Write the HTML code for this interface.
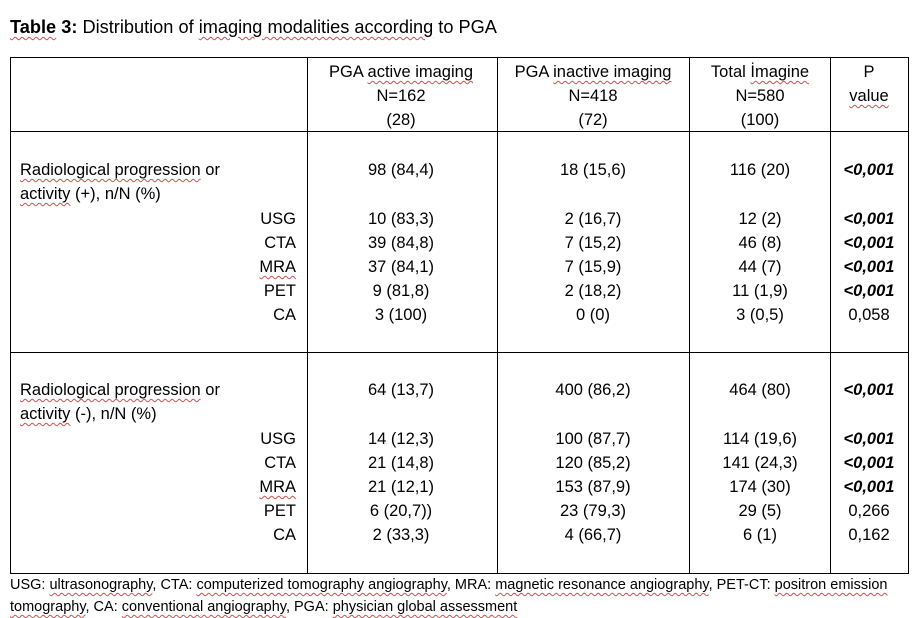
<!DOCTYPE html>
<html><head><meta charset="utf-8">
<style>
body{margin:0;width:920px;height:617px;background:#fff;position:relative;overflow:hidden;font-family:"Liberation Sans",Arial,sans-serif;color:#000}
.t{position:absolute;white-space:nowrap;font-size:16.5px;line-height:24px}
.c{text-align:center;transform:translateX(-50%)}
.r{text-align:right;transform:translateX(-100%)}
.h{position:absolute;height:1px;background:#000}
.v{position:absolute;width:1px;background:#000}
.w{text-decoration:underline wavy #d05050;text-decoration-thickness:1px;text-underline-offset:3px}
b{font-weight:bold}
</style></head><body>
<div class="t" style="left:10px;top:15px;font-size:18.2px"><b class="w">Table</b><b> 3:</b> Distribution of <span class="w">imaging modalities according</span> to PGA</div>

<div class="h" style="left:10px;top:57px;width:898px"></div>
<div class="h" style="left:10px;top:131px;width:898px"></div>
<div class="h" style="left:10px;top:352px;width:898px"></div>
<div class="h" style="left:10px;top:573px;width:898px"></div>
<div class="v" style="left:10px;top:57px;height:517px"></div>
<div class="v" style="left:307px;top:57px;height:517px"></div>
<div class="v" style="left:497px;top:57px;height:517px"></div>
<div class="v" style="left:689px;top:57px;height:517px"></div>
<div class="v" style="left:830px;top:57px;height:517px"></div>
<div class="v" style="left:908px;top:57px;height:517px"></div>

<div>
<div class="t c" style="left:401px;top:60px">PGA <span class="w">active imaging</span></div>
<div class="t c" style="left:401px;top:84px">N=162</div>
<div class="t c" style="left:401px;top:108px">(28)</div></div>
<div>
<div class="t c" style="left:593px;top:60px">PGA <span class="w">inactive imaging</span></div>
<div class="t c" style="left:593px;top:84px">N=418</div>
<div class="t c" style="left:593px;top:108px">(72)</div></div>
<div>
<div class="t c" style="left:760px;top:60px">Total <span class="w">İmagine</span></div>
<div class="t c" style="left:760px;top:84px">N=580</div>
<div class="t c" style="left:760px;top:108px">(100)</div></div>
<div>
<div class="t c" style="left:869px;top:60px">P</div>
<div class="t c" style="left:869px;top:84px"><span class="w">value</span></div></div>

<div id="rows"></div>

<div class="t" style="left:10px;top:574px;font-size:14.5px;line-height:22px">USG: <span class="w">ultrasonography</span>, CTA: <span class="w">computerized tomography angiography</span>, MRA: <span class="w">magnetic resonance angiography</span>, PET-CT: <span class="w">positron emission</span><br><span class="w">tomography</span>, CA: <span class="w">conventional angiography</span>, PGA: <span class="w">physician global assessment</span></div>

<script>
const labels=["USG","CTA","MRA","PET","CA"];
const g1=[["98 (84,4)","18 (15,6)","116 (20)","<0,001"],["10 (83,3)","2 (16,7)","12 (2)","<0,001"],["39 (84,8)","7 (15,2)","46 (8)","<0,001"],["37 (84,1)","7 (15,9)","44 (7)","<0,001"],["9 (81,8)","2 (18,2)","11 (1,9)","<0,001"],["3 (100)","0 (0)","3 (0,5)","0,058"]];
const g2=[["64 (13,7)","400 (86,2)","464 (80)","<0,001"],["14 (12,3)","100 (87,7)","114 (19,6)","<0,001"],["21 (14,8)","120 (85,2)","141 (24,3)","<0,001"],["21 (12,1)","153 (87,9)","174 (30)","<0,001"],["6 (20,7))","23 (79,3)","29 (5)","0,266"],["2 (33,3)","4 (66,7)","6 (1)","0,162"]];
const cx=[401,593,760,869];
const root=document.getElementById('rows');
function add(html,cls,x,y,name){const d=document.createElement('div');d.className='t '+cls;d.style.left=x+'px';d.style.top=y+'px';d.innerHTML=html;


root.appendChild(d);}
function group(data,sign,y0,gi){
 add('<span class="w">Radiological progression</span> or','',20,y0,'group'+gi+'-label-line1');
 add('<span class="w">activity</span> ('+sign+'), n/N (%)','',20,y0+24,'group'+gi+'-label-line2');
 data.forEach((row,i)=>{const y=i===0?y0:y0+24*(i+1)+1;
  if(i>0)add(labels[i-1]==='MRA'?'<span class="w">MRA</span>':labels[i-1],'r',296,y,'group'+gi+'-'+labels[i-1].toLowerCase()+'-label');
  row.forEach((v,j)=>{const s=v.replace('<','&lt;');add(j===3&&v.startsWith('<')?'<b><i>'+s+'</i></b>':s,'c',cx[j],y,'group'+gi+'-row'+i+'-col'+j);});
 });
}
group(g1,'+',158,1);
group(g2,'-',378,2);
</script>
</body></html>
